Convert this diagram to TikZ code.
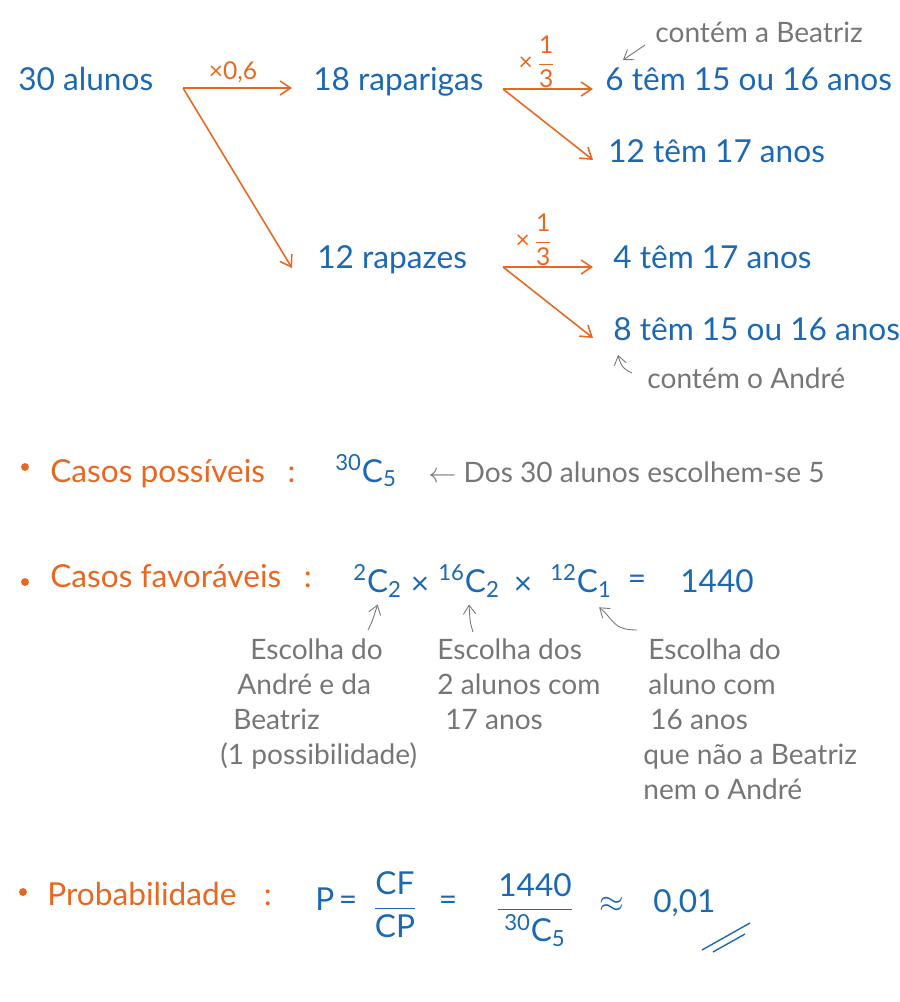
\RequirePackage{fix-cm}
\documentclass[tikz,border=0pt]{standalone}
\usepackage{fontspec}
\usepackage{amsmath}
\setmainfont{Lato}
\definecolor{penblue}{RGB}{28, 104, 178}
\definecolor{penorange}{RGB}{230, 104, 34}
\definecolor{pengray}{RGB}{118, 118, 118}
\usetikzlibrary{arrows.meta}
\newcommand{\comb}[2]{\textsuperscript{#1}C\textsubscript{#2}}

\begin{document}
\begin{tikzpicture}[x=0.02cm, y=-0.02cm,
    blue text/.style={text=penblue, inner sep=0pt, font=\fontsize{18}{22}\selectfont},
    orange text/.style={text=penorange, inner sep=0pt, font=\fontsize{18}{22}\selectfont},
    factor/.style={text=penorange, inner sep=0pt, font=\fontsize{14}{16}\selectfont},
    remark/.style={text=pengray, inner sep=0pt, font=\fontsize{16}{20}\selectfont, align=left},
    branch/.style={draw=penorange, line width=0.9pt, -{Straight Barb[length=6pt,width=8pt]}},
    hint/.style={draw=pengray, line width=0.5pt, -{Straight Barb[length=5pt,width=7pt]}},
    bullet/.style={circle, fill=penorange, inner sep=0pt, minimum size=4.5pt}]
    \useasboundingbox (0,0) rectangle (900,1002);

    % Tree
    \node[blue text, anchor=base west] (total) at (18,90) {30 alunos};
    \node[blue text, anchor=base west] (girls) at (313,90) {18 raparigas};
    \node[blue text, anchor=base west] (boys) at (317,268) {12 rapazes};
    \node[blue text, anchor=base west] (g1) at (605,90) {6 têm 15 ou 16 anos};
    \node[blue text, anchor=base west] (g2) at (608,162) {12 têm 17 anos};
    \node[blue text, anchor=base west] (b1) at (613,268) {4 têm 17 anos};
    \node[blue text, anchor=base west] (b2) at (613,340) {8 têm 15 ou 16 anos};

    \coordinate (fork0) at (183,88);
    \coordinate (forkG) at (503,89);
    \coordinate (forkB) at (503,267);
    \draw[branch] (fork0) -- ([xshift=-0.42cm,yshift=0.04cm]girls.base west);
    \draw[branch] (fork0) -- ([xshift=-0.5cm]boys.base west);
    \draw[branch] (forkG) -- ([xshift=-0.24cm,yshift=0.02cm]g1.base west);
    \draw[branch] (forkG) -- ([xshift=-0.3cm,yshift=0.04cm]g2.base west);
    \draw[branch] (forkB) -- ([xshift=-0.4cm,yshift=0.02cm]b1.base west);
    \draw[branch] (forkB) -- ([xshift=-0.4cm,yshift=0.04cm]b2.base west);

    \node[factor] (mul06) at (233,72) {×0,6};
    \node[factor] (mulG) at (537,62) {×\,$\dfrac{\text{1}}{\text{3}}$};
    \node[factor] (mulB) at (534,240) {×\,$\dfrac{\text{1}}{\text{3}}$};

    % Notes on the tree
    \node[remark, anchor=base west] (noteB) at (655,42) {contém a Beatriz};
    \node[remark, anchor=base west] (noteA) at (647,388) {contém o André};
    \draw[hint] ([xshift=-0.2cm,yshift=-0.06cm]noteB.base west) -- ([xshift=0.36cm,yshift=0.6cm]g1.base west);
    \draw[hint] ([xshift=-0.3cm,yshift=0.3cm]noteA.base west) .. controls +(-10,-4) and +(2,8) .. ([xshift=0.1cm,yshift=-0.3cm]b2.base west);

    % Casos possiveis
    \node[bullet] (dot1) at (25,467) {};
    \node[orange text, anchor=base west] (possLbl) at (50,482) {Casos possíveis\hspace{0.45cm}:};
    \node[blue text, anchor=base west] (possVal) at (335,482) {\comb{30}{5}};
    \node[remark, anchor=base west] (possNote) at (428,482) {$\leftarrow$ Dos 30 alunos escolhem-se 5};

    % Casos favoraveis
    \node[bullet] (dot2) at (25,582) {};
    \node[orange text, anchor=base west] (favLbl) at (50,587) {Casos favoráveis\hspace{0.45cm}:};
    \node[blue text, anchor=base west] (f1) at (353,592) {\comb{2}{2}};
    \node[blue text] (x1) at (420,586) {×};
    \node[blue text, anchor=base west] (f2) at (438,592) {\comb{16}{2}};
    \node[blue text] (x2) at (523,586) {×};
    \node[blue text, anchor=base west] (f3) at (550,592) {\comb{12}{1}};
    \node[blue text] (eq) at (637,582) {=};
    \node[blue text, anchor=base west] (res) at (680,592) {1440};

    \node[remark, anchor=north west] (note1) at (220,638) {\hspace*{0.6cm}Escolha do\\\hspace*{0.34cm}André e da\\\hspace*{0.26cm}Beatriz\\(1 possibilidade)};
    \node[remark, anchor=north west] (note2) at (437,638) {Escolha dos\\2 alunos com\\\hspace*{0.16cm}17 anos};
    \node[remark, anchor=north west] (note3) at (643,638) {\hspace*{0.1cm}Escolha do\\\hspace*{0.1cm}aluno com\\\hspace*{0.14cm}16 anos\\que não a Beatriz\\nem o André};
    \draw[hint] ([shift={(148,-8)}]note1.north west) .. controls +(4,-8) .. ([yshift=-0.14cm]f1.south);
    \draw[hint] ([shift={(36,-6)}]note2.north west) .. controls +(-3,-10) .. ([yshift=-0.14cm]f2.south);
    \draw[hint] ([shift={(-6,-8)}]note3.north west) .. controls +(-25,0) and +(15,12) .. ([xshift=-0.26cm,yshift=-0.2cm]f3.south east);

    % Probabilidade
    \node[bullet] (dot3) at (23,892) {};
    \node[orange text, anchor=base west] (probLbl) at (47,905) {Probabilidade\hspace{0.55cm}:};
    \node[blue text, anchor=base west] (pvar) at (315,910) {P};
    \node[blue text] (peq1) at (348,903) {=};
    \node[blue text] (pfrac1) at (395,905) {$\dfrac{\text{CF}}{\text{CP}}$};
    \node[blue text] (peq2) at (448,903) {=};
    \node[blue text] (pfrac2) at (535,910) {$\dfrac{\text{1440}}{\text{\comb{30}{5}}}$};
    \node[blue text] (papprox) at (612,905) {$\approx$};
    \node[blue text, anchor=base west] (pval) at (653,912) {0,01};
    \draw[penblue, line width=0.8pt] (702,950) -- (750,923) (713,952) -- (745,934);
\end{tikzpicture}
\end{document}
